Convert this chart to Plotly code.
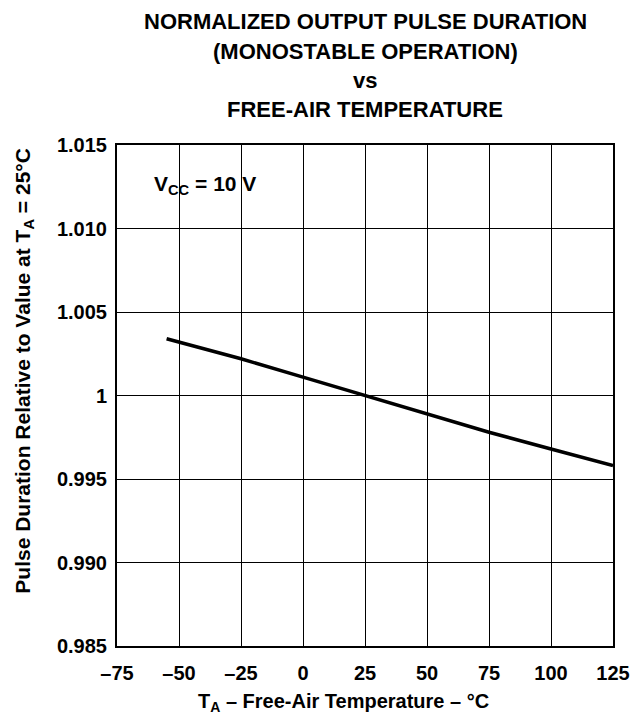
import plotly.graph_objects as go

temps = [-55, -25, 0, 25, 50, 75, 100, 125]
pulse = [1.0034, 1.0022, 1.0011, 1.0, 0.9989, 0.9978, 0.9968, 0.9958]

x_ticks = [-75, -50, -25, 0, 25, 50, 75, 100, 125]
x_ticktext = ["–75", "–50", "–25", "0", "25", "50", "75", "100", "125"]
y_ticks = [0.985, 0.990, 0.995, 1.0, 1.005, 1.010, 1.015]
y_ticktext = ["0.985", "0.990", "0.995", "1", "1.005", "1.010", "1.015"]

title_lines = ["NORMALIZED OUTPUT PULSE DURATION", "(MONOSTABLE OPERATION)", "vs", "FREE-AIR TEMPERATURE"]
title_px = [22, 52, 81, 110]
x_title = "<b>T<sub>A</sub> – Free-Air Temperature – °C</b>"
y_title = "<b>Pulse Duration Relative to Value at T<sub>A</sub> = 25°C</b>"

FONT = "Liberation Sans, Arial, sans-serif"
W, H = 642, 717
L, R, T, B = 117, 20, 145, 71
plot_w = W - L - R
plot_h = H - T - B

fig = go.Figure()
fig.add_trace(go.Scatter(x=temps, y=pulse, mode="lines",
                         line=dict(color="black", width=3.5), showlegend=False))

for t, py in zip(title_lines, title_px):
    fig.add_annotation(text="<b>" + t + "</b>", xref="paper", yref="paper",
                       x=0.5, y=1 + (T - py) / plot_h, showarrow=False,
                       xanchor="center", yanchor="middle",
                       font=dict(family=FONT, size=22, color="black"))

fig.add_annotation(text=x_title, xref="paper", yref="paper",
                   x=(348 - L) / plot_w, y=(H - B - 702) / plot_h, showarrow=False,
                   xanchor="center", yanchor="middle",
                   font=dict(family=FONT, size=20, color="black"))
fig.add_annotation(text=y_title, xref="paper", yref="paper", textangle=-90,
                   x=(22 - L) / plot_w, y=(H - B - 371) / plot_h, showarrow=False,
                   xanchor="center", yanchor="middle",
                   font=dict(family=FONT, size=21, color="black"))

fig.add_annotation(text="<b>V<sub>CC</sub> = 10 V</b>", xref="x", yref="y",
                   x=-61, y=1.0126, showarrow=False, xanchor="left", yanchor="middle",
                   font=dict(family=FONT, size=21, color="black"))

fig.update_layout(
    width=W, height=H,
    margin=dict(l=L, r=R, t=T, b=B),
    paper_bgcolor="white", plot_bgcolor="white",
    font=dict(family=FONT, size=20, color="black"),
)
fig.update_xaxes(range=[-75, 125], tickvals=x_ticks,
                 ticktext=["<b>" + s + "</b>" for s in x_ticktext],
                 showgrid=True, gridcolor="black", gridwidth=1,
                 showline=True, linecolor="black", linewidth=2, mirror=True,
                 zeroline=False, ticks="outside", ticklen=8, tickcolor="rgba(0,0,0,0)",
                 tickfont=dict(family=FONT, size=20, color="black"))
fig.update_yaxes(range=[0.985, 1.015], tickvals=y_ticks,
                 ticktext=["<b>" + s + "</b>" for s in y_ticktext],
                 showgrid=True, gridcolor="black", gridwidth=1,
                 showline=True, linecolor="black", linewidth=2, mirror=True,
                 zeroline=False, ticks="outside", ticklen=4, tickcolor="rgba(0,0,0,0)",
                 tickfont=dict(family=FONT, size=20, color="black"))

fig.write_html("out.html", config={"displayModeBar": False},
               post_script="document.body.style.margin='0';document.body.style.overflow='hidden';")
